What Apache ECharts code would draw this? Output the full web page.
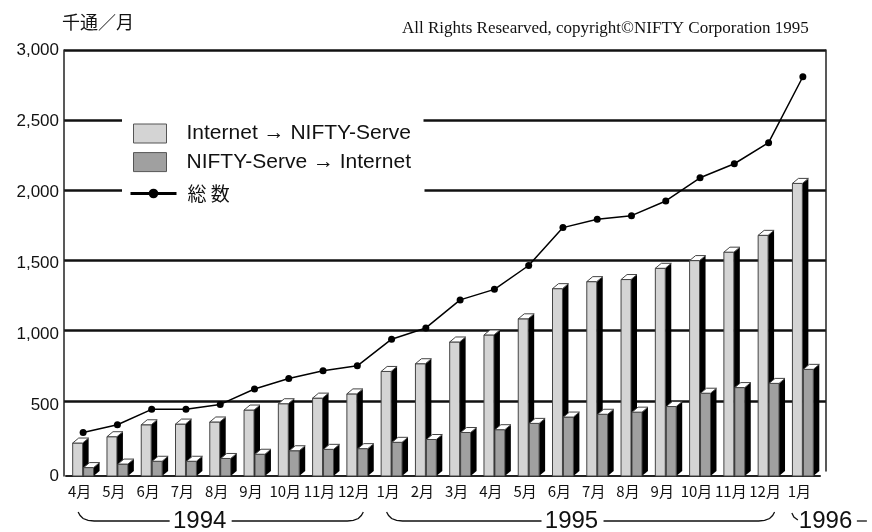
<!DOCTYPE html>
<html lang="ja">
<head>
<meta charset="UTF-8">
<title>NIFTY-Serve インターネットメール</title>
<script src="https://cdn.jsdelivr.net/npm/echarts@6/dist/echarts.min.js"></script>
<style>
    html, body { margin: 0; padding: 0; background: #fff; }
    #container { width: 872px; height: 532px; }
</style>
</head>
<body>
<div id="container"></div>
<script type="text/javascript">
    // 月 (1994.4 - 1996.1)
    var months = ['4月', '5月', '6月', '7月', '8月', '9月', '10月', '11月', '12月',
        '1月', '2月', '3月', '4月', '5月', '6月', '7月', '8月', '9月', '10月', '11月', '12月', '1月'];
    // 千通／月
    var toNifty = [235, 280, 365, 370, 385, 470, 515, 555, 585, 745, 800, 955, 1005, 1120, 1335, 1385, 1400, 1480, 1535, 1595, 1715, 2085];
    var toInternet = [60, 85, 105, 105, 125, 155, 180, 190, 195, 240, 260, 310, 330, 375, 420, 440, 455, 495, 590, 630, 660, 760];
    var total = [310, 365, 475, 475, 510, 620, 695, 750, 785, 975, 1055, 1255, 1330, 1500, 1770, 1830, 1855, 1960, 2125, 2225, 2375, 2845];
    var yTicks = ['0', '500', '1,000', '1,500', '2,000', '2,500', '3,000'];
    // 年 -> first / last month index
    var years = [
        { label: '1994', from: 0, to: 8 },
        { label: '1995', from: 9, to: 20 },
        { label: '1996', from: 21, to: 21 }
    ];

    var dom = document.getElementById('container');
    var myChart = echarts.init(dom, null, { renderer: 'canvas' });

    // 3D風の棒 (前面 + 側面 + 上面)
    function bar3d(left) {
        return function (params, api) {
            var idx = api.value(0);
            var top = api.coord([idx, api.value(1)]);
            var base = api.coord([idx, 0]);
            var band = api.size([1, 0])[0];
            var w = band * 0.29, dx = 6, dy = 5;
            var x0 = left ? top[0] - w - 0.5 : top[0] + 0.5;
            var yt = top[1], yb = base[1];
            var fill = api.visual('color');
            return {
                type: 'group',
                children: [
                    { type: 'polygon', shape: { points: [[x0 + w, yt], [x0 + w + dx, yt - dy], [x0 + w + dx, yb - dy], [x0 + w, yb]] },
                      style: { fill: '#000' } },
                    { type: 'rect', shape: { x: x0, y: yt, width: w, height: yb - yt },
                      style: { fill: fill, stroke: '#444', lineWidth: 1 } },
                    { type: 'polygon', shape: { points: [[x0, yt], [x0 + dx, yt - dy], [x0 + w + dx, yt - dy], [x0 + w, yt]] },
                      style: { fill: '#fff', stroke: '#444', lineWidth: 1 } }
                ]
            };
        };
    }

    var legendText = {
        fontFamily: 'Liberation Sans', fontSize: 21, color: '#111',
        width: 227, lineHeight: 19
    };

    var option = {
        animation: false,
        title: [
            { text: '千通／月', left: 57, top: 8,
              textStyle: { fontFamily: 'Noto Sans CJK JP', fontSize: 18, fontWeight: 'normal', color: '#111' } },
            { text: 'All Rights Researved, copyright©NIFTY Corporation 1995', left: 397, top: 15,
              textStyle: { fontFamily: 'Liberation Serif', fontSize: 17, fontWeight: 'normal', color: '#111' } }
        ],
        legend: [
            {
                left: 122, top: 114, orient: 'vertical',
                padding: [9, 10, 8, 11], itemWidth: 33, itemHeight: 19, itemGap: 7.6,
                backgroundColor: '#fff',
                textStyle: Object.assign({ padding: [0, 0, 0, 15] }, legendText),
                data: [
                    { name: 'Internet → NIFTY-Serve', icon: 'rect', itemStyle: { borderColor: '#555', borderWidth: 1 } },
                    { name: 'NIFTY-Serve → Internet', icon: 'rect', itemStyle: { borderColor: '#555', borderWidth: 1 } }
                ]
            },
            {
                left: 122, top: 176, orient: 'vertical',
                padding: [8, 10, 4, 7], itemWidth: 46, itemHeight: 12,
                backgroundColor: '#fff',
                lineStyle: { width: 3 },
                textStyle: Object.assign({ padding: [0, 0, 0, 6] }, legendText, { fontFamily: 'Noto Sans CJK JP', fontSize: 19, lineHeight: 12 }),
                data: ['総 数']
            }
        ],
        grid: [
            // データ用 (前面)
            { left: 66, right: 52, top: 55, bottom: 56, outerBoundsMode: 'none' },
            // 目盛線用 (奥の壁)
            { left: 64, right: 46, top: 50, bottom: 61, outerBoundsMode: 'none' },
            // 目盛ラベル + 縦軸
            { left: 64, right: 46, top: 50, bottom: 56, outerBoundsMode: 'none' }
        ],
        xAxis: [
            {
                type: 'category', gridIndex: 0, data: months,
                axisLine: { lineStyle: { color: '#222', width: 2 } },
                axisTick: { show: false },
                axisLabel: { interval: 0, margin: 8, padding: [0, 7, 0, 0],
                    fontFamily: 'Noto Sans CJK JP', fontSize: 15, color: '#111' }
            },
            { type: 'value', gridIndex: 1, min: 0, max: 1, show: false },
            { type: 'value', gridIndex: 2, min: 0, max: 1, show: false }
        ],
        yAxis: [
            { type: 'value', gridIndex: 0, min: 0, max: 3000, interval: 500, show: false },
            {
                type: 'value', gridIndex: 1, min: 0, max: 3000, interval: 500,
                axisLine: { show: false }, axisTick: { show: false }, axisLabel: { show: false },
                splitLine: { show: true, showMinLine: false, lineStyle: { color: '#111', width: 2.5 } }
            },
            {
                type: 'value', gridIndex: 1, position: 'right', min: 0, max: 3000, interval: 500,
                axisLine: { show: true, lineStyle: { color: '#222', width: 1.5 } },
                axisTick: { show: false }, axisLabel: { show: false }, splitLine: { show: false }
            },
            {
                type: 'value', gridIndex: 2, min: 0, max: 3000, interval: 500,
                axisLine: { show: true, lineStyle: { color: '#222', width: 1.5 } },
                axisTick: { show: false }, splitLine: { show: false },
                axisLabel: {
                    margin: 5, padding: [8, 0, 0, 0],
                    fontFamily: 'Liberation Sans', fontSize: 17, color: '#111',
                    formatter: function (v, i) { return yTicks[i]; }
                }
            }
        ],
        series: [
            {
                name: 'Internet → NIFTY-Serve', type: 'custom', z: 2,
                xAxisIndex: 0, yAxisIndex: 0,
                itemStyle: { color: '#d4d4d4' },
                renderItem: bar3d(true),
                encode: { x: 0, y: 1 },
                data: toNifty.map(function (v, i) { return [i, v]; })
            },
            {
                name: 'NIFTY-Serve → Internet', type: 'custom', z: 3,
                xAxisIndex: 0, yAxisIndex: 0,
                itemStyle: { color: '#a0a0a0' },
                renderItem: bar3d(false),
                encode: { x: 0, y: 1 },
                data: toInternet.map(function (v, i) { return [i, v]; })
            },
            {
                name: '総 数', type: 'line', z: 5,
                xAxisIndex: 0, yAxisIndex: 0,
                symbol: 'circle', symbolSize: 7,
                itemStyle: { color: '#000' },
                lineStyle: { color: '#000', width: 1.5 },
                data: total
            }
        ]
    };
    myChart.setOption(option);

    // 年の括弧
    var labelAt = [3.4, 14.25];
    var cx = function (i) { return myChart.convertToPixel({ xAxisIndex: 0 }, i); };
    var band = cx(1) - cx(0);
    var yb = 521, yTop = 512;
    var lineStyle = { stroke: '#111', lineWidth: 1.3, fill: null };
    var textStyle = function (txt, x, align) {
        return { type: 'text', x: x, y: yb, style: { text: txt, font: '24px "Liberation Sans"', fill: '#111',
            align: align, textAlign: align, verticalAlign: 'middle', textVerticalAlign: 'middle' } };
    };
    var elements = [];
    years.forEach(function (yr, k) {
        if (yr.from === yr.to) {
            var c = cx(yr.from);
            elements.push({ type: 'polyline', shape: { points: [[c - 11, yTop + 1], [c - 9, yTop + 5], [c - 5, yb - 1]] }, style: lineStyle });
            elements.push(textStyle(yr.label, c - 4, 'left'));
            elements.push({ type: 'line', shape: { x1: c + 54, y1: yb, x2: c + 64, y2: yb }, style: lineStyle });
            return;
        }
        var xl = cx(yr.from) - 5, xr = cx(yr.to) + 6;
        var tc = cx(0) + labelAt[k] * band;
        elements.push({ type: 'polyline', shape: { points: [[xl, yTop], [xl + 2, yTop + 3.5], [xl + 5, yTop + 6.5], [xl + 10, yb - 0.7], [xl + 16, yb], [tc - 30, yb]] }, style: lineStyle });
        elements.push({ type: 'polyline', shape: { points: [[tc + 32, yb], [xr - 16, yb], [xr - 10, yb - 0.7], [xr - 5, yTop + 6.5], [xr - 2, yTop + 3.5], [xr, yTop]] }, style: lineStyle });
        elements.push(textStyle(yr.label, tc, 'center'));
    });
    myChart.setOption({ graphic: elements });

    window.addEventListener('resize', myChart.resize);
</script>
</body>
</html>
